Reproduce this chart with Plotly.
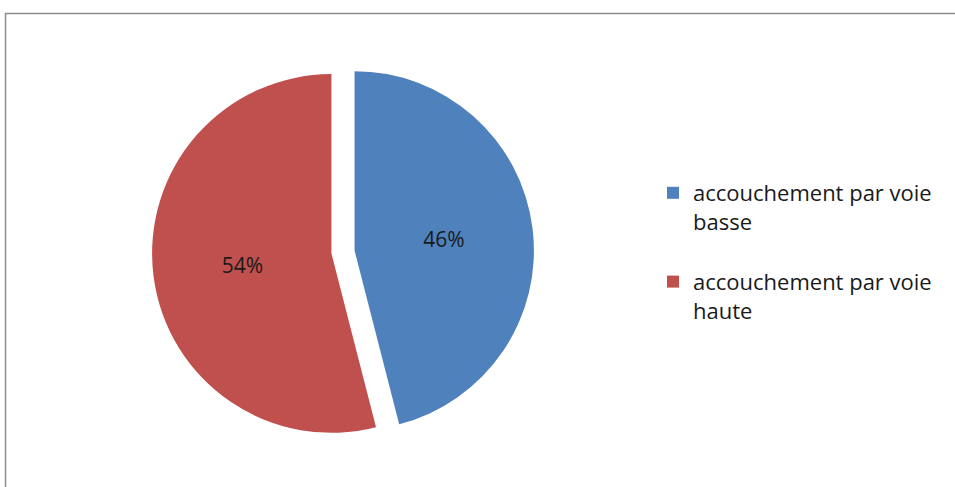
import plotly.graph_objects as go

labels = ["accouchement par voie<br>basse<br> ", "accouchement par voie<br>haute<br> "]
values = [46, 54]
colors = ["#4F81BD", "#C0504D"]

W, H = 955, 487

fig = go.Figure(go.Pie(
    labels=labels,
    values=values,
    sort=False,
    direction="clockwise",
    rotation=0,
    pull=[0.065, 0.065],
    marker=dict(colors=colors, line=dict(width=0)),
    textinfo="percent",
    textposition="inside",
    insidetextorientation="horizontal",
    texttemplate="%{percent:.0%}",
    textfont=dict(family="Open Sans, sans-serif", size=21, color="#1a1a1a"),
    domain=dict(x=[152 / W, 534 / W], y=[1 - 443 / H, 1 - 61 / H]),
    hoverinfo="label+percent",
))

fig.update_layout(
    width=W, height=H,
    margin=dict(l=0, r=0, t=0, b=0),
    paper_bgcolor="white",
    plot_bgcolor="white",
    showlegend=True,
    legend=dict(
        x=653 / W, y=1 - 172 / H, xanchor="left", yanchor="top",
        font=dict(family="Open Sans, sans-serif", size=22, color="#1a1a1a"),
        valign="top",
        bgcolor="rgba(0,0,0,0)",
    ),
    shapes=[dict(
        type="rect", xref="paper", yref="paper",
        x0=5.5 / W, x1=1.02, y0=-0.05, y1=1 - 13.5 / H,
        line=dict(color="#8c8c8c", width=1.5),
        fillcolor="rgba(0,0,0,0)", layer="below",
    )],
)

fig.write_html(
    "out.html",
    config={"displayModeBar": False},
    post_script="document.body.style.margin='0';document.body.style.padding='0';",
)
